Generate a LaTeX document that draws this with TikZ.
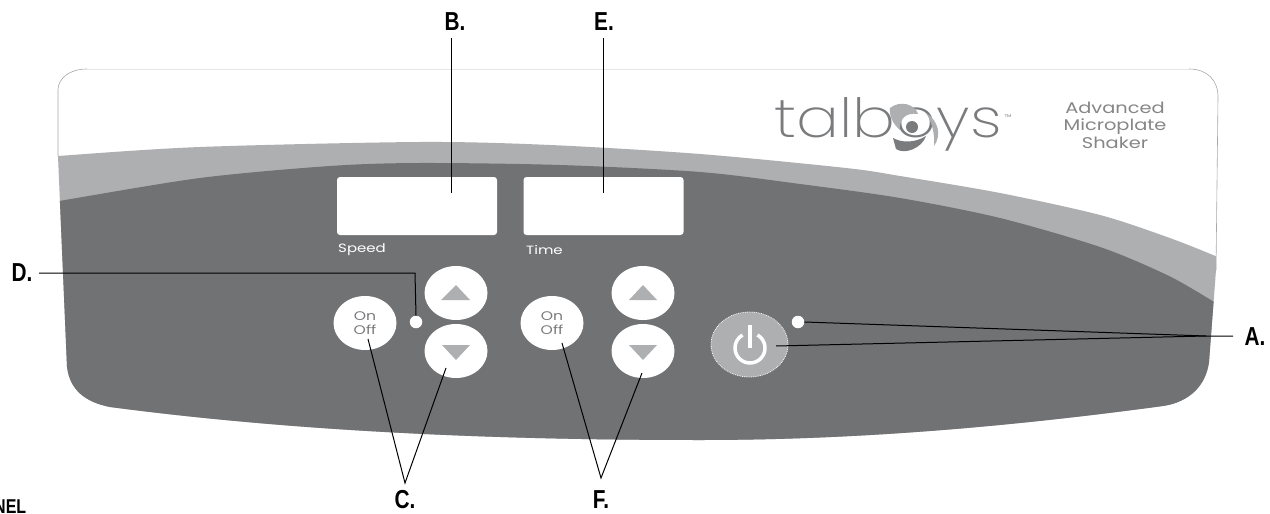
\documentclass[tikz,border=0pt]{standalone}
\usepackage{fontspec}
\usepackage{color}
\usetikzlibrary{shapes.geometric}
\newfontfamily\labelfont[FakeStretch=.8]{Liberation Sans}
\newfontfamily\logofont[FakeStretch=1.18,UprightFont=* ExtraLight]{Poppins}
\newfontfamily\panelfont[FakeStretch=1.25]{Poppins}
\definecolor{paneldark}{HTML}{717274}
\definecolor{panelband}{HTML}{AEAFB1}
\definecolor{panelrim}{HTML}{A8A8A8}
\definecolor{logogray}{HTML}{7A7B7D}
\tikzset{
  letter/.style={font=\labelfont\bfseries\fontsize{26}{26}\selectfont,inner sep=0pt},
  button/.style={ellipse,fill=white,inner sep=0pt,minimum width=63pt,minimum height=54pt,
    align=center,text=logogray,font=\panelfont\fontsize{12.5}{14.5}\selectfont},
  lamp/.style={circle,fill=white,inner sep=0pt,minimum size=12.5pt},
  display/.style={fill=white,rounded corners=3pt,inner sep=0pt,minimum width=160pt,minimum height=58pt},
  caption/.style={text=white,inner sep=0pt,font=\panelfont\fontsize{12}{12}\selectfont},
  arrowmark/.style={fill=panelband},
  leader/.style={draw=black,line width=1pt}
}
\begin{document}
\begin{tikzpicture}[x=1pt,y=-1pt]
        \useasboundingbox (0,0) rectangle (1270,514);
        \fill[white] (0,0) rectangle (1270,514);

        % panel
        \begin{scope}
          \clip (87,69) -- (1189,69) .. controls (1207,69) and (1218,80) .. (1218,97)
            -- (1216,270) -- (1209,362) .. controls (1206,385) and (1190,402) .. (1163,406)
            .. controls (1000,428) and (850,440) .. (700,440)
            .. controls (500,440) and (300,432) .. (110,407)
            .. controls (85,402) and (70,390) .. (67,367)
            -- (58,156) -- (58,90) .. controls (58,78) and (70,69) .. (87,69) -- cycle;
          \fill[panelband] plot[smooth] coordinates {(40,158) (58,156) (200,147) (420,142) (550,145) (700,154) (846,168) (900,176) (1000,193) (1100,215) (1167,237) (1213,255) (1240,267)}
            -- (1300,600) -- (0,600) -- cycle;
          \fill[paneldark] plot[smooth] coordinates {(40,204) (59,201) (200,178) (330,166) (420,163) (560,165) (700,172) (800,184) (900,198) (1000,218) (1100,247) (1167,275) (1211,300) (1235,315)}
            -- (1300,600) -- (0,600) -- cycle;
        \end{scope}
        \draw[panelrim,line width=.6pt] (58,156) -- (58,90) .. controls (58,78) and (70,69) .. (87,69);
        \draw[black!10,line width=1pt] (87,69) -- (1189,69);
        \draw[panelrim,line width=.6pt] (1189,69) .. controls (1207,69) and (1218,80) .. (1218,97) -- (1216,270);

        % logo
        \node[inner sep=0pt,text=logogray,font=\logofont\fontsize{54}{54}\selectfont] (Logo) at (888,124) {talboys};
        \node[inner sep=0pt,text=logogray,font=\panelfont\fontsize{4}{4}\selectfont] (LogoMark) at (1008,116) {TM};
        \node[inner sep=0pt,align=center,text=panelrim!80!black,font=\panelfont\fontsize{15.5}{17.5}\selectfont] (Model) at (1115,125) {Advanced\\Microplate\\Shaker};
        \fill[panelband] (890,108) .. controls (900,100) and (915,104) .. (918,114) .. controls (905,112) and (899,120) .. (900,130) .. controls (893,124) and (889,116) .. (890,108) -- cycle;
        \fill[logogray] (893,138) .. controls (902,143) and (915,143) .. (926,136) .. controls (922,148) and (905,155) .. (896,149) -- cycle;
        \fill[panelband] (926,113) .. controls (938,120) and (942,135) .. (934,146) .. controls (935,134) and (932,122) .. (926,113) -- cycle;
        \fill[logogray] (912,127) circle[radius=6pt];

        % displays
        \node[display] (SpeedDisplay) at (417,206) {};
        \node[display] (TimeDisplay) at (603.5,206) {};
        \node[caption,anchor=west] (SpeedText) at (338,250) {Speed};
        \node[caption,anchor=west] (TimeText) at (526,250) {Time};

        % buttons
        \node[button] (OnOffSpeed) at (365,323) {On\\Off};
        \node[button] (UpSpeed) at (456,293) {};
        \node[button] (DownSpeed) at (456,351) {};
        \node[lamp] (LampSpeed) at (416,322) {};
        \node[button] (OnOffTime) at (552,323) {On\\Off};
        \node[button] (UpTime) at (643,293) {};
        \node[button] (DownTime) at (643,351) {};
        \node[lamp] (LampPower) at (798,322) {};
        \node[ellipse,fill=panelband,draw=white,densely dotted,line width=.8pt,inner sep=0pt,minimum width=77pt,minimum height=65pt] (Power) at (749.5,344.5) {};
        \draw[white,line width=3.5pt] (757.5,335) arc[start angle=60,end angle=-240,radius=15pt];
        \draw[white,line width=4.5pt] (750,325) -- (750,348);

        \fill[arrowmark] (456,285) -- (470,300) -- (441,300) -- cycle;
        \fill[arrowmark] (456,360) -- (470,345) -- (442,345) -- cycle;
        \fill[arrowmark] (643,285) -- (657,300) -- (629,300) -- cycle;
        \fill[arrowmark] (643,360) -- (657,345) -- (629,345) -- cycle;

        % labels
        \node[letter] (LabelA) at (1255,337) {A.};
        \node[letter] (LabelB) at (455,22) {B.};
        \node[letter] (LabelC) at (405,500) {C.};
        \node[letter] (LabelD) at (22,273) {D.};
        \node[letter] (LabelE) at (604,22) {E.};
        \node[letter] (LabelF) at (601,500) {F.};
        \node[inner sep=0pt,anchor=north west,font=\labelfont\bfseries\fontsize{20}{20}\selectfont] (LabelPanel) at (-6,500) {NEL};

        % leaders
        \coordinate (TipB) at (451,193);
        \coordinate (TipE) at (603,193);
        \coordinate (StartB) at (451,38);
        \coordinate (StartE) at (603,38);
        \coordinate (StartD) at (39,273);
        \coordinate (BendD) at (415,273);
        \coordinate (ApexC) at (405,483);
        \coordinate (ApexF) at (601,478);
        \coordinate (TipOnOffSpeed) at (368,339);
        \coordinate (TipDownSpeed) at (446,368);
        \coordinate (TipOnOffTime) at (562,343);
        \coordinate (TipDownTime) at (642,373);
        \coordinate (JoinA) at (1206,336);
        \coordinate (EndA) at (1233,336);
        \coordinate (TipPower) at (776,346);
        \draw[leader] (StartB) -- (TipB);
        \draw[leader] (StartE) -- (TipE);
        \draw[leader] (StartD) -- (BendD) -- (LampSpeed.north);
        \draw[leader] (TipOnOffSpeed) -- (ApexC) -- (TipDownSpeed);
        \draw[leader] (TipOnOffTime) -- (ApexF) -- (TipDownTime);
        \draw[leader] (LampPower.east) -- (JoinA) -- (EndA);
        \draw[leader] (TipPower) -- (JoinA);
      \end{tikzpicture}
\end{document}
